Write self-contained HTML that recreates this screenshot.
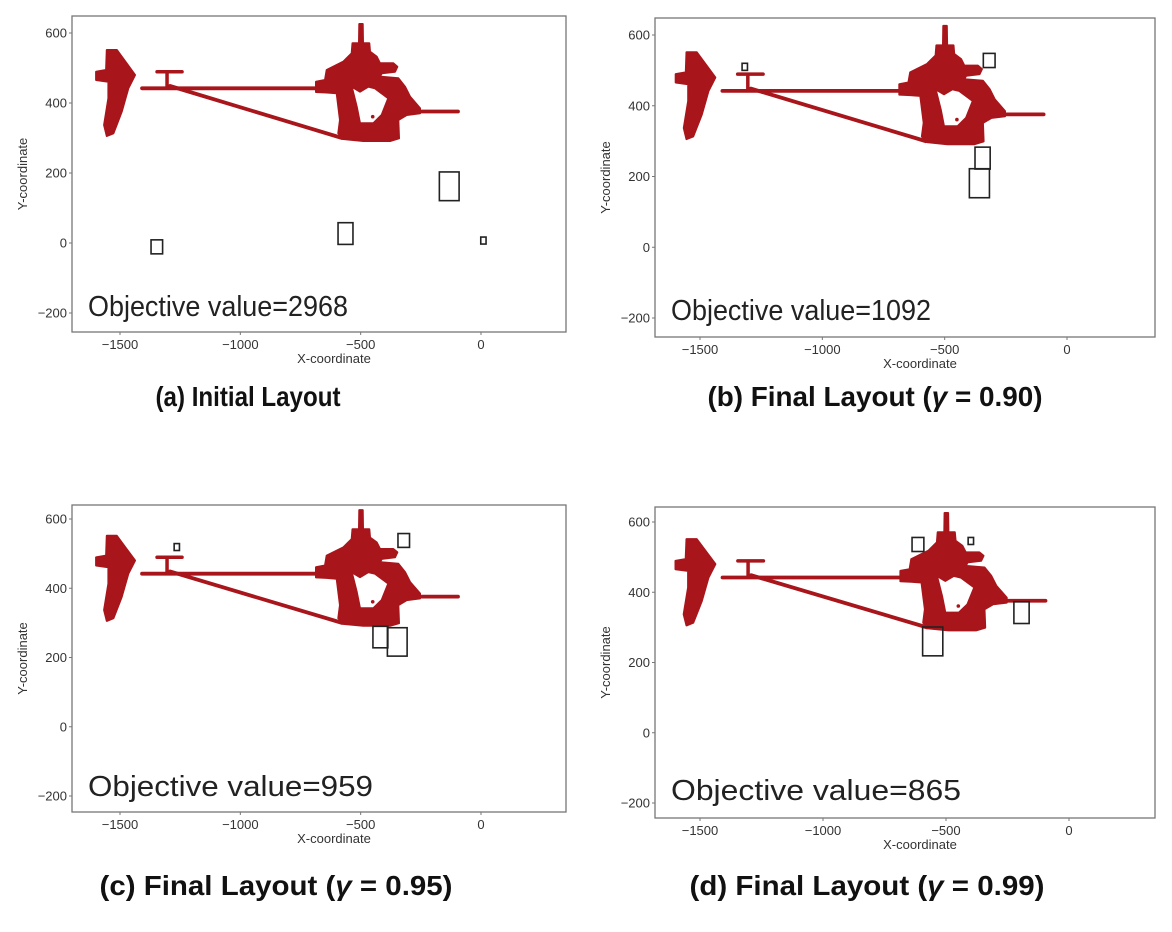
<!DOCTYPE html>
<html><head><meta charset="utf-8"><style>
html,body{margin:0;padding:0;background:#fff;}
svg{display:block;font-family:"Liberation Sans",sans-serif;}
</style></head><body>
<svg id="root" width="1172" height="932" viewBox="0 0 1172 932" xmlns="http://www.w3.org/2000/svg"></svg>
<script>
// ---- data ----
const panelIds = ["a","b","c","d"];
const objectiveValues = [2968, 1092, 959, 865];
const captions = ["(a) Initial Layout","(b) Final Layout (","(c) Final Layout (","(d) Final Layout ("];
const gammaValues = [null, "0.90", "0.95", "0.99"];
const xTicks = [-1500, -1000, -500, 0];
const yTicks = [600, 400, 200, 0, -200];
// component boxes: centers (x,y) and sizes (w,h) in data units
const boxW = [22, 48, 62, 82];
const boxH = [20, 40, 62, 82];
const boxXa = [10, -1347, -563, -132];
const boxYa = [7, -11, 27, 162];
const boxXb = [-1317, -318, -345, -358];
const boxYb = [510, 528, 252, 181];
const boxXc = [-1264, -321, -418, -348];
const boxYc = [519, 538, 259, 245];
const boxXd = [-399, -614, -193, -554];
const boxYd = [546, 536, 342, 260];
const boxX = [boxXa, boxXb, boxXc, boxXd];
const boxY = [boxYa, boxYb, boxYc, boxYd];

// ---- layout (pixels) ----
const panels = [
 {fx0:72, fx1:566, fy0:16, fy1:332, xA:120, xB:481, yA:33, yB:313, cx:248, cy:406, cw:185, oy:316},
 {fx0:655,fx1:1155,fy0:18, fy1:337, xA:700, xB:1067,yA:35, yB:318, cx:875, cy:406, cw:335, oy:320},
 {fx0:72, fx1:566, fy0:505,fy1:812, xA:120, xB:481, yA:519,yB:796, cx:276, cy:895, cw:353, oy:796},
 {fx0:655,fx1:1155,fy0:507,fy1:818, xA:700, xB:1069,yA:522,yB:803, cx:867, cy:895, cw:355, oy:800}
];
const NS="http://www.w3.org/2000/svg";
const root=document.getElementById('root');
function mk(tag,attrs,parent){const e=document.createElementNS(NS,tag);for(const k in attrs)e.setAttribute(k,attrs[k]);(parent||root).appendChild(e);return e;}

// helicopter outline, converted to data units
function dx(v){return (v-481)/0.2407;}
function dy(v){return 600-(v-33)/0.35;}
const finP=[[106.7,50],[116.7,50],[135,75],[128.3,88.3],[121.7,111.7],[113.3,133.3],[106.7,136],[104,125],[108.3,98.3],[108.3,81.7],[96,80],[96,71.7],[106,70]];
const bodyP=[[359.3,24],[362.7,24],[363,43.3],[369.3,43.3],[370,51.7],[376.7,56.7],[380,63.3],[393.3,63.3],[397.3,66.7],[395,71.7],[381.7,73.3],[380,76.7],[398.3,78.3],[405,86.7],[410,96.7],[420,108.3],[420,113.3],[406.7,115],[398.3,120],[399,138.3],[390,141],[363.3,141],[343.3,139],[338.3,133.3],[340,120],[336.7,93.3],[326.7,92.5],[316,92],[316,81.7],[325,80],[326.7,70],[343.3,61.7],[351.7,53.3],[352.5,43.3],[359,43.3]];
const holeP=[[351.7,86.7],[360,91.7],[368.3,86.7],[375,88.3],[388.3,98.3],[381.7,115],[373.3,123.3],[360,123.3],[356.7,106.7]];
function conv(arr){return arr.map(p=>[dx(p[0]),dy(p[1])]);}
const fin=conv(finP), body=conv(bodyP), hole=conv(holeP);
const lines=[[dx(142),dy(88.3),dx(318),dy(88.3),3.8],[dx(167),dy(72),dx(167),dy(88),3.5],[dx(157),dy(71.7),dx(182),dy(71.7),3.5],[dx(170),dy(86),dx(342),dy(138),3.8],[dx(410),dy(111.5),dx(458),dy(111.5),3.8]];

panels.forEach((P,i)=>{
  const g=mk('g',{});
  
  
  const sx=(P.xB-P.xA)/1500, sy=(P.yB-P.yA)/800;
  const X=v=>P.xB+v*sx, Y=v=>P.yA+(600-v)*sy;
  const fr=mk('rect',{x:P.fx0,y:P.fy0,width:P.fx1-P.fx0,height:P.fy1-P.fy0,fill:'#fff',stroke:'#777','stroke-width':1.3},g);
  
  
  const hg=mk('g',{fill:'#a8151b',stroke:'#a8151b'},g);
  
  
  const pts=a=>a.map(p=>X(p[0]).toFixed(1)+','+Y(p[1]).toFixed(1)).join(' ');
  mk('polygon',{points:pts(fin),'stroke-width':2,'stroke-linejoin':'round'},hg);
  mk('path',{d:'M'+pts(body)+'Z M'+pts(hole)+'Z','fill-rule':'evenodd','stroke-width':2,'stroke-linejoin':'round'},hg);
  lines.forEach(l=>mk('line',{x1:X(l[0]),y1:Y(l[1]),x2:X(l[2]),y2:Y(l[3]),'stroke-width':l[4],'stroke-linecap':'round'},hg));
  mk('circle',{cx:X(dx(372.7)),cy:Y(dy(116.7)),r:1.8,stroke:'none'},hg);
  boxX[i].forEach((bx,j)=>{
    const w=boxW[j]*sx,h=boxH[j]*sy;
    const r=mk('rect',{x:X(bx)-w/2,y:Y(boxY[i][j])-h/2,width:w,height:h,fill:'none',stroke:'#222','stroke-width':1.6},g);
    
    
  });
  xTicks.forEach(t=>{
    mk('line',{x1:X(t),y1:P.fy1,x2:X(t),y2:P.fy1+3,stroke:'#777'},g);
    const tx=mk('text',{x:X(t),y:P.fy1+17,'font-size':13,'text-anchor':'middle',fill:'#333'},g);
    tx.textContent=(t<0?'\u2212'+(-t):t);
    
    
  });
  yTicks.forEach(t=>{
    mk('line',{x1:P.fx0-3,y1:Y(t),x2:P.fx0,y2:Y(t),stroke:'#777'},g);
    const ty=mk('text',{x:P.fx0-5,y:Y(t)+4.5,'font-size':13,'text-anchor':'end',fill:'#333'},g);
    ty.textContent=(t<0?'\u2212'+(-t):t);
    
    
  });
  const xl=mk('text',{x:(P.fx0+P.fx1)/2+15,y:P.fy1+31,'font-size':13,'text-anchor':'middle',fill:'#333'},g);
  xl.textContent='X-coordinate';
  
  
  const yx=P.fx0-45, yy=(P.fy0+P.fy1)/2;
  const yl=mk('text',{x:yx,y:yy,'font-size':13,'text-anchor':'middle',fill:'#333',transform:'rotate(-90 '+yx+' '+yy+')'},g);
  yl.textContent='Y-coordinate';
  
  
  const ov=mk('text',{x:P.fx0+16,y:P.oy,'font-size':29,fill:'#222',textLength:i==0||i==1?260:(i==2?285:290),lengthAdjust:'spacingAndGlyphs'},g);
  ov.textContent='Objective value='+objectiveValues[i];
  
  
  const cap=mk('text',{x:P.cx,y:P.cy,'font-size':28,'font-weight':'bold','text-anchor':'middle',fill:'#111',textLength:P.cw,lengthAdjust:'spacingAndGlyphs'},g);
  
  
  if(gammaValues[i]===null){cap.textContent=captions[i];}
  else{
    cap.appendChild(document.createTextNode(captions[i]));
    const ts=mk('tspan',{'font-style':'italic'},cap);ts.textContent='\u03b3';
    cap.appendChild(document.createTextNode(' = '+gammaValues[i]+')'));
  }
});
</script>
</body></html>
